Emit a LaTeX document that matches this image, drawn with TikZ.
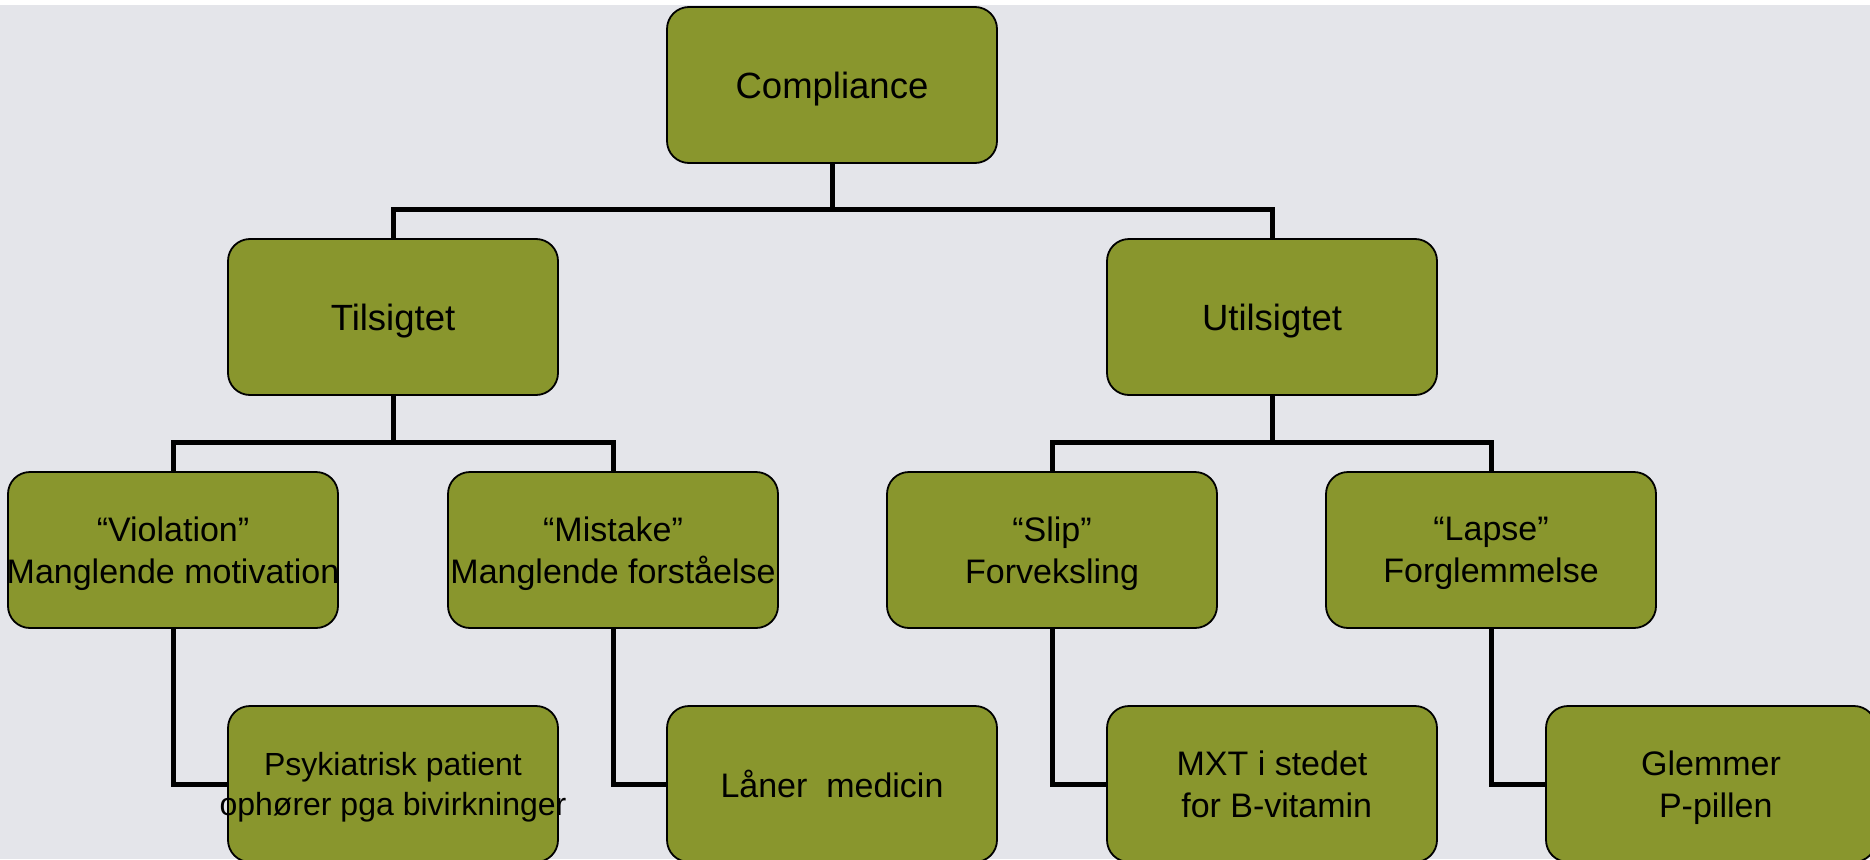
\documentclass[tikz,border=0pt]{standalone}
\usepackage{fontspec}
\setmainfont{Liberation Sans}
\definecolor{bgc}{RGB}{228,229,234}
\definecolor{olive}{RGB}{137,150,45}
\newcommand{\zl}[1]{\makebox[0pt][c]{#1}}
\begin{document}
\begin{tikzpicture}[x=1pt,y=-1pt,
  box/.style={draw=black,line width=1.8pt,fill=olive,rounded corners=22pt,
    minimum width=330pt,minimum height=156pt,inner sep=0pt,align=center,
    text depth=0pt},
  big/.style={font=\fontsize{36.5}{42}\selectfont},
  mid/.style={font=\fontsize{34}{41.5}\selectfont},
  sml/.style={font=\fontsize{32}{40}\selectfont},
  conn/.style={draw=black,line width=5pt,line join=miter}]
\useasboundingbox (0,0) rectangle (1870,859);
\clip (0,0) rectangle (1870,859);
\fill[white] (0,0) rectangle (1870,859);
\fill[bgc] (0,5) rectangle (1870,859);
% junction coordinates
\coordinate (j1) at (832,209);
\coordinate (j2) at (393,442);
\coordinate (j3) at (1272,442);
% nodes
\node[box,big] (comp) at (832,85) {Compliance};
\node[box,big] (tils) at (393,317) {Tilsigtet};
\node[box,big] (utils) at (1272,317) {Utilsigtet};
\node[box,mid] (viol) at (173,550) {\zl{“Violation”}\\\zl{Manglende motivation}};
\node[box,mid] (mist) at (613,550) {\zl{“Mistake”}\\\zl{Manglende forståelse}};
\node[box,mid] (slip) at (1052,550) {\zl{“Slip”}\\\zl{Forveksling}};
\node[box,mid] (lapse) at (1491,550) {\zl{“Lapse”}\\\zl{Forglemmelse}};
\node[box,sml] (psyk) at (393,784) {\zl{Psykiatrisk patient}\\\zl{ophører pga bivirkninger}};
\node[box,mid] (laan) at (832,784) {Låner\ \ medicin};
\node[box,mid] (mxt) at (1272,784) {\zl{MXT i stedet}\\\zl{\ for B-vitamin}};
\node[box,mid] (glem) at (1711,784) {\zl{Glemmer}\\\zl{\ P-pillen}};
% connectors
\draw[conn] (comp.south) -- (j1);
\draw[conn] (tils.north) -- (tils.north |- j1) -- (utils.north |- j1) -- (utils.north);
\draw[conn] (tils.south) -- (j2);
\draw[conn] (viol.north) -- (viol.north |- j2) -- (mist.north |- j2) -- (mist.north);
\draw[conn] (utils.south) -- (j3);
\draw[conn] (slip.north) -- (slip.north |- j3) -- (lapse.north |- j3) -- (lapse.north);
\draw[conn] (viol.south) |- (psyk.west);
\draw[conn] (mist.south) |- (laan.west);
\draw[conn] (slip.south) |- (mxt.west);
\draw[conn] (lapse.south) |- (glem.west);
\end{tikzpicture}
\end{document}
